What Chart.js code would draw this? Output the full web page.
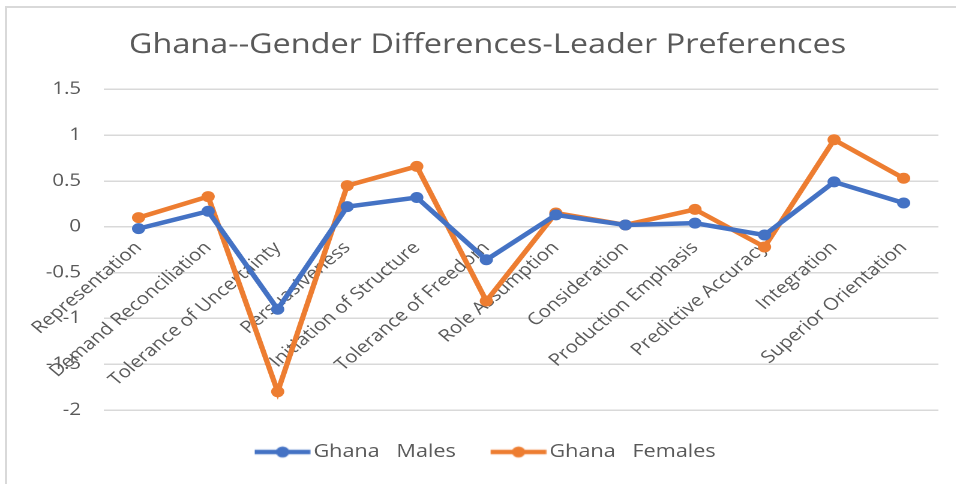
<!DOCTYPE html>
<html>
<head>
<meta charset="utf-8">
<title>Ghana Leader Preferences</title>
<script src="https://cdn.jsdelivr.net/npm/chart.js@4.4.1/dist/chart.umd.min.js"></script>
<style>
    html, body { margin: 0; padding: 0; background: #fff; overflow: hidden; }
    #frame {
        position: absolute; left: 5px; top: 6px; width: 1000px; height: 520px;
        border-left: 2px solid #d9d9d9; border-top: 2px solid #d9d9d9;
    }
    /* el gráfico se dibuja a 797px y se estira en horizontal hasta 956px */
    #wrap {
        position: absolute; left: 0; top: 0; width: 797px; height: 484px;
        transform: scaleX(1.2); transform-origin: 0 0;
    }
</style>
</head>
<body>
<div id="frame"></div>
<div id="wrap"><canvas id="mainChart"></canvas></div>
<script>
// Dimensiones del cuestionario (eje X)
const categories = [
    'Representation', 'Demand Reconciliation', 'Tolerance of Uncertainty', 'Persuasiveness',
    'Initiation of Structure', 'Tolerance of Freedom', 'Role Assumption', 'Consideration',
    'Production Emphasis', 'Predictive Accuracy', 'Integration', 'Superior Orientation'
];

// Diferencias por género
const malesValues   = [-0.02, 0.17, -0.90, 0.22, 0.32, -0.36, 0.13, 0.02, 0.04, -0.09, 0.49, 0.26];
const femalesValues = [0.10, 0.33, -1.80, 0.45, 0.66, -0.81, 0.15, 0.02, 0.19, -0.22, 0.95, 0.53];

const seriesNames = ['Ghana   Males', 'Ghana   Females'];
const seriesColors = ['#4472C4', '#ED7D31'];

const yMin = -2;
const yMax = 1.5;
const yStep = 0.5;

const FONT = '"Open Sans", "Liberation Sans", sans-serif';
const TEXT_COLOR = '#595959';

// Icono de leyenda: línea con marcador al centro
function legendIcon(color) {
    const c = document.createElement('canvas');
    c.width = 50; c.height = 14;
    const ctx = c.getContext('2d');
    ctx.strokeStyle = color;
    ctx.lineWidth = 4.5;
    ctx.beginPath(); ctx.moveTo(3, 7); ctx.lineTo(49.5, 7); ctx.stroke();
    ctx.fillStyle = color;
    ctx.beginPath(); ctx.arc(26.25, 7, 5.5, 0, Math.PI * 2); ctx.fill();
    return c;
}

const datasets = [malesValues, femalesValues].map((vals, i) => ({
    label: seriesNames[i],
    data: vals,
    borderColor: seriesColors[i],
    backgroundColor: seriesColors[i],
    borderWidth: 4.5,
    pointRadius: 5.5,
    pointHoverRadius: 5.5,
    pointBorderWidth: 0,
    tension: 0,
    fill: false
}));

const ctx = document.getElementById('mainChart').getContext('2d');

new Chart(ctx, {
    type: 'line',
    data: { labels: categories, datasets },
    options: {
        responsive: true,
        maintainAspectRatio: false,
        animation: false,
        devicePixelRatio: 2,
        layout: { padding: { left: 30.5, right: 15, top: 0, bottom: 13 } },
        plugins: {
            title: {
                display: true,
                text: 'Ghana--Gender Differences-Leader Preferences',
                color: TEXT_COLOR,
                font: { family: FONT, size: 27, weight: 'normal' },
                padding: { top: 29, bottom: 28 }
            },
            legend: {
                position: 'bottom',
                labels: {
                    usePointStyle: true,
                    pointStyleWidth: 36,
                    color: TEXT_COLOR,
                    font: { family: FONT, size: 18 },
                    padding: 33,
                    generateLabels: chart => chart.data.datasets.map((ds, i) => ({
                        text: ds.label,
                        fontColor: TEXT_COLOR,
                        pointStyle: legendIcon(seriesColors[i]),
                        datasetIndex: i,
                        lineWidth: 0
                    }))
                }
            },
            tooltip: { enabled: false }
        },
        scales: {
            x: {
                type: 'category',
                position: { y: 0 },
                offset: true,
                grid: { display: false },
                border: { display: false },
                ticks: {
                    autoSkip: false,
                    maxRotation: 45,
                    minRotation: 45,
                    color: TEXT_COLOR,
                    font: { family: FONT, size: 17 },
                    padding: 3
                }
            },
            y: {
                min: yMin,
                max: yMax,
                afterFit: scale => { scale.width = 56; },
                grid: { color: '#d9d9d9', lineWidth: 1.5, drawTicks: false },
                border: { display: false },
                ticks: {
                    stepSize: yStep,
                    color: TEXT_COLOR,
                    font: { family: FONT, size: 17 },
                    padding: 19,
                    callback: v => String(v)
                }
            }
        }
    }
});
</script>
</body>
</html>
